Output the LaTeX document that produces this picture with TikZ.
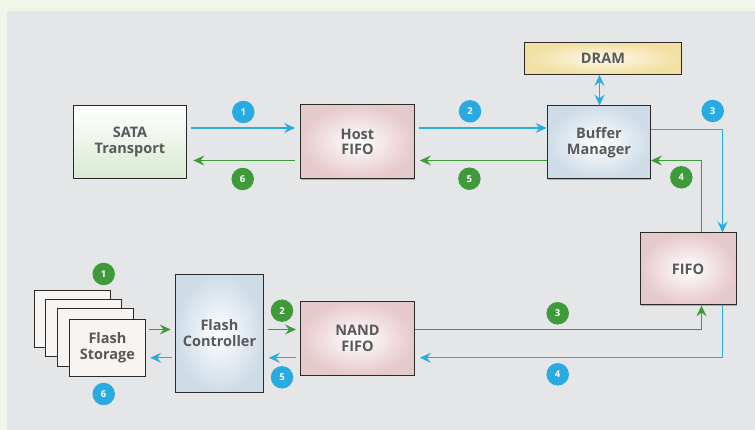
\documentclass[tikz,border=0pt]{standalone}
\usepackage{fontspec}
\setmainfont{Open Sans}
\usetikzlibrary{arrows.meta,calc,shadows}
\definecolor{outerbg}{HTML}{F2F6E8}
\definecolor{innerbg}{HTML}{E5E6E8}
\definecolor{cblue}{HTML}{29ABE2}
\definecolor{cgreen}{HTML}{3F9A3A}
\definecolor{txt}{HTML}{58595B}
\definecolor{pinkout}{HTML}{E6C9CB}
\definecolor{blueout}{HTML}{CEDCE7}
\definecolor{yelout}{HTML}{F2DFA2}
\definecolor{yelin}{HTML}{FDF9EA}
\definecolor{greenbot}{HTML}{D8EAD2}
\definecolor{stackfill}{HTML}{F8F4F2}
\definecolor{boxline}{HTML}{2A2A2A}
\tikzset{
  box/.style={draw=boxline, line width=0.9pt, anchor=north west, inner sep=0pt,
    font=\fontsize{14.5}{15.8}\selectfont\bfseries, text=txt, align=center,
    drop shadow={shadow xshift=0.8pt, shadow yshift=-0.8pt, opacity=0.45, fill=black!60}},
  pinkbox/.style={box, inner color=white, outer color=pinkout},
  bluebox/.style={box, inner color=white, outer color=blueout},
  yelbox/.style={box, inner color=yelin, outer color=yelout},
  greenbox/.style={box, top color=white, bottom color=greenbot},
  stackbox/.style={box, fill=stackfill},
  badge/.style={circle, minimum size=22.5pt, inner sep=0pt, text=white,
    font=\fontsize{9.5}{9.5}\selectfont\bfseries},
  bbadge/.style={badge, fill=cblue},
  gbadge/.style={badge, fill=cgreen},
  tiphead/.tip={Stealth[length=11pt,width=10pt,inset=4pt]},
  tipstyle/.style={-tiphead},
  barrow/.style={tipstyle, draw=cblue, line width=1.1pt},
  garrow/.style={tipstyle, draw=cgreen, line width=1.1pt},
}
\begin{document}
\begin{tikzpicture}[x=1pt,y=-1pt]
\useasboundingbox (0,0) rectangle (755,430);
\fill[outerbg] (0,0) rectangle (755,430);
\fill[innerbg] (7,11) rectangle (755,430);

% boxes
\node[greenbox, minimum width=113pt, minimum height=73pt] (sata) at (73,105) {SATA\\Transport};
\node[pinkbox, minimum width=114pt, minimum height=74pt] (host) at (300,104.5) {Host\\FIFO};
\node[yelbox, minimum width=157pt, minimum height=32pt] (dram) at (524,42) {DRAM};
\node[bluebox, minimum width=103pt, minimum height=73pt] (bm) at (547,105.5) {Buffer\\Manager};
\node[pinkbox, minimum width=96pt, minimum height=72pt] (fifo) at (639.5,232.5) {FIFO};
\node[pinkbox, minimum width=114pt, minimum height=73.5pt] (nand) at (300,301) {NAND\\FIFO};
\node[bluebox, minimum width=88pt, minimum height=117.5pt] (fc) at (175,274) {Flash\\Controller};
\node[stackbox, minimum width=76pt, minimum height=57pt] (s1) at (33.5,290) {};
\node[stackbox, minimum width=76pt, minimum height=57pt] (s2) at (45,299) {};
\node[stackbox, minimum width=76pt, minimum height=57pt] (s3) at (56.5,308.5) {};
\node[stackbox, minimum width=76pt, minimum height=57pt] (fs) at (69,319) {Flash\\Storage};

% row coordinates
\coordinate (ra) at (0,128);
\coordinate (rb) at (0,160.5);
\coordinate (rc) at (0,329.5);
\coordinate (rd) at (0,357.8);
\coordinate (cx1) at (701.5,0);
\coordinate (cx2) at (722.5,0);
\coordinate (cd) at (599.5,0);

% top row connectors
\draw[barrow, shorten <=4pt, shorten >=5pt] (sata.east|-ra) -- (host.west|-ra);
\draw[garrow, shorten <=5pt, shorten >=6.5pt] (host.west|-rb) -- (sata.east|-rb);
\draw[barrow, shorten <=4pt, shorten >=0.5pt] (host.east|-ra) -- (bm.west|-ra);
\draw[garrow, shorten >=5pt] (bm.west|-rb) -- (host.east|-rb);
\draw[cblue, line width=1.1pt, tiphead-tiphead] (dram.south-|cd) -- (bm.north-|cd);
\draw[barrow] ($(bm.east|-ra)+(0,1.3)$) -| (fifo.north-|cx2);
\draw[garrow] (fifo.north-|cx1) |- (bm.east|-rb);

% bottom row connectors
\draw[garrow] (nand.east|-rc) -| (fifo.south-|cx1);
\draw[barrow, shorten >=5pt] (fifo.south-|cx2) |- (nand.east|-rd);
\draw[garrow, shorten <=3pt, shorten >=4.3pt] (fs.east|-rc) -- (fc.west|-rc);
\draw[barrow, shorten <=3.5pt, shorten >=4.3pt] (fc.west|-rd) -- (fs.east|-rd);
\draw[garrow, shorten <=4.5pt, shorten >=4pt] (fc.east|-rc) -- (nand.west|-rc);
\draw[barrow, shorten <=4pt, shorten >=5pt] (nand.west|-rd) -- (fc.east|-rd);

% badges
\node[bbadge] (b1) at (243.3,112) {1};
\node[gbadge] (g6) at (242.7,179) {6};
\node[bbadge] (b2) at (470,111.3) {2};
\node[gbadge] (g5) at (469.4,178.7) {5};
\node[bbadge] (b3) at (712.7,111) {3};
\node[gbadge] (g4) at (681.3,177.3) {4};
\node[gbadge] (g3) at (557.7,313.3) {3};
\node[bbadge] (b4) at (557.7,374.3) {4};
\node[gbadge] (g1) at (103.7,274) {1};
\node[bbadge] (b6) at (103.7,394) {6};
\node[gbadge] (g2) at (282,310.7) {2};
\node[bbadge] (b5) at (282,377.3) {5};
\end{tikzpicture}
\end{document}
